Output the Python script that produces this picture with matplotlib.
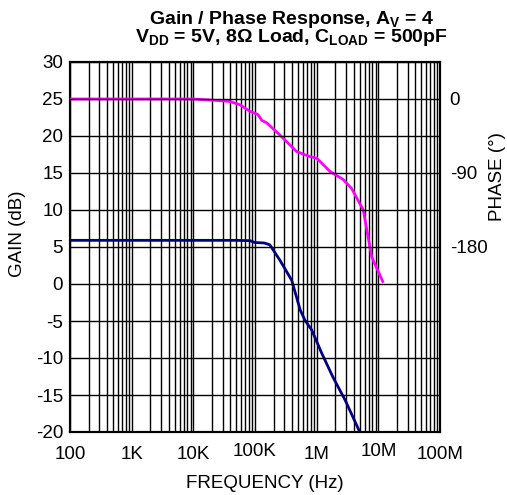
import numpy as np
import matplotlib
matplotlib.use('Agg')
import matplotlib.pyplot as plt
import matplotlib.transforms as mtransforms
from matplotlib.ticker import LogLocator, FixedLocator, NullFormatter

plt.rcParams['font.family'] = ['Liberation Sans', 'DejaVu Sans']
plt.rcParams['axes.unicode_minus'] = False
plt.rcParams['mathtext.fontset'] = 'custom'
plt.rcParams['mathtext.rm'] = 'Liberation Sans:bold'
plt.rcParams['mathtext.bf'] = 'Liberation Sans:bold'
plt.rcParams['mathtext.it'] = 'Liberation Sans:bold'

# gain curve (Hz, dB)
gain_f = [100, 1e3, 1e4, 5e4, 83e3, 100e3, 140e3, 174e3, 254e3, 394e3, 540e3, 646e3,
          830e3, 1.2e6, 1.84e6, 2.9e6, 5.0e6]
gain_db = [5.9, 5.9, 5.9, 5.9, 5.85, 5.6, 5.55, 5.3, 3.2, 0.5, -3.5, -4.9,
           -6.2, -9.3, -12.6, -15.7, -20.0]

# phase curve (Hz, degrees)
phase_f = [100, 1e3, 1e4, 27e3, 39e3, 57e3, 83e3, 112e3, 129e3, 155e3, 255e3,
           474e3, 780e3, 1.0e6, 1.64e6, 2.7e6, 3.7e6, 5.7e6, 7.8e6, 10e6, 11.8e6]
phase_deg = [0, 0, 0, -2, -3, -7, -15, -19, -26, -29, -44,
             -64, -70, -72, -88, -98, -109, -135, -192, -210, -222]

xticks = [1e2, 1e3, 1e4, 1e5, 1e6, 1e7, 1e8]
xlabels = ['100', '1K', '10K', '100K', '1M', '10M', '100M']
gain_ticks = [-20, -15, -10, -5, 0, 5, 10, 15, 20, 25, 30]
phase_ticks = [0, -90, -180]

fs = 13.5

fig = plt.figure(figsize=(5.07, 4.95), dpi=100)
ax = fig.add_axes([70/507, 63/495, 370/507, 370/495])

ax.set_xscale('log')
ax.set_xlim(100, 1e8)
ax.set_ylim(-20, 30)

ax.plot(gain_f, gain_db, color='#000080', lw=2.0, zorder=3)

ax2 = ax.twinx()
ax2.set_ylim((-20 - 25) * 9, (30 - 25) * 9)
ax2.plot(phase_f, phase_deg, color='#ff00ff', lw=2.0, zorder=3)

# grid: vertical lines under the curves, horizontal lines on top
for f in LogLocator(base=10, subs=np.arange(1, 10)).tick_values(100, 1e8):
    if 100 <= f <= 1e8:
        ax.axvline(f, color='black', lw=1.0, zorder=1)
for g in gain_ticks:
    ax2.axhline((g - 25) * 9, color='black', lw=1.0, zorder=4)

ax.set_xticks(xticks)
ax.set_xticklabels(xlabels)
ax.xaxis.set_minor_formatter(NullFormatter())
ax.set_yticks(gain_ticks)
ax2.yaxis.set_major_locator(FixedLocator(phase_ticks))
ax.tick_params(axis='x', which='both', length=0, labelsize=fs, pad=10)
ax.tick_params(axis='y', which='both', length=0, labelsize=fs, pad=5)
ax2.tick_params(axis='y', length=0, labelsize=fs, pad=7)

# 100K and 10M sit a little higher in the original
up = mtransforms.ScaledTranslation(0, 3/100, fig.dpi_scale_trans)
for lab in ax.get_xticklabels():
    if lab.get_text() in ('100K', '10M'):
        lab.set_transform(lab.get_transform() + up)

for a in (ax, ax2):
    for s in a.spines.values():
        s.set_linewidth(1.5)

fig.text(292/507, 1 - 19/495, r'Gain / Phase Response, A$_\mathregular{V}$ = 4',
         ha='center', va='center', fontsize=14, fontweight='bold')
fig.text(291/507, 1 - 38/495, r'V$_\mathregular{DD}$ = 5V, 8Ω Load, C$_\mathregular{LOAD}$ = 500pF',
         ha='center', va='center', fontsize=14, fontweight='bold')
fig.text(265/507, 1 - 483/495, 'FREQUENCY (Hz)', ha='center', va='center', fontsize=fs)
fig.text(18/507, 1 - 234/495, 'GAIN (dB)', ha='center', va='center', rotation=90, fontsize=fs)
fig.text(498/507, 1 - 177/495, 'PHASE (°)', ha='center', va='center', rotation=90, fontsize=fs)

fig.savefig('out.png', dpi=100)
